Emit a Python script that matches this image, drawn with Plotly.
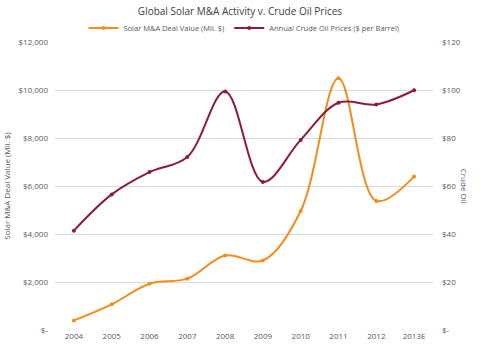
import plotly.graph_objects as go

years = ["2004", "2005", "2006", "2007", "2008", "2009", "2010", "2011", "2012", "2013E"]
solar_deal_value = [400, 1070, 1930, 2140, 3100, 2900, 4960, 10490, 5380, 6400]
crude_oil_price = [41.4, 56.5, 65.8, 72.1, 99.4, 61.7, 79.2, 94.7, 94.0, 99.9]

left_ticks = [0, 2000, 4000, 6000, 8000, 10000, 12000]
left_labels = ["$-", "$2,000", "$4,000", "$6,000", "$8,000", "$10,000", "$12,000"]
right_ticks = [0, 20, 40, 60, 80, 100, 120]
right_labels = ["$-", "$20", "$40", "$60", "$80", "$100", "$120"]

orange = "#F28C1C"
maroon = "#8B1C3C"
font = "Open Sans, Liberation Sans, sans-serif"
txt = "#595959"
grid = "#D9D9D9"

fig = go.Figure()
fig.add_trace(go.Scatter(
    x=years, y=solar_deal_value, name="Solar M&A Deal Value (Mil. $)",
    mode="lines+markers", line=dict(color=orange, width=2, shape="spline", smoothing=1),
    marker=dict(size=4, color=orange), yaxis="y"))
fig.add_trace(go.Scatter(
    x=years, y=crude_oil_price, name="Annual Crude Oil Prices ($ per Barrel)",
    mode="lines+markers", line=dict(color=maroon, width=2, shape="spline", smoothing=1),
    marker=dict(size=4, color=maroon), yaxis="y2"))

fig.update_layout(
    width=480, height=349,
    margin=dict(l=55, r=47, t=42, b=19, autoexpand=False),
    paper_bgcolor="white", plot_bgcolor="white",
    font=dict(family=font, size=8, color=txt),
    title=dict(text="Global Solar M&A Activity v. Crude Oil Prices", x=0.5, xanchor="center",
               y=0.968, yanchor="middle", font=dict(size=10, color="#404040")),
    legend=dict(orientation="h", x=0.5, xanchor="center", y=1.049, yanchor="middle",
                font=dict(size=7.5, color=txt), itemwidth=30, tracegroupgap=0,
                bgcolor="rgba(0,0,0,0)"),
    xaxis=dict(showgrid=False, showline=False, ticks="", tickfont=dict(size=8, color=txt),
               range=[-0.5, 9.5]),
    yaxis=dict(range=[0, 12000], tickvals=left_ticks, ticktext=left_labels,
               showgrid=True, gridcolor=grid, gridwidth=1, zeroline=False,
               showline=False, mirror=False,
               ticks="", ticklabelstandoff=6, tickfont=dict(size=8, color=txt),
               title=dict(text="Solar M&A Deal Value (Mil. $)", font=dict(size=8, color=txt), standoff=6)),
    yaxis2=dict(range=[0, 120], tickvals=right_ticks, ticktext=right_labels,
                overlaying="y", side="right", showgrid=True, gridcolor=grid, gridwidth=1,
                zeroline=False, showline=False,
                ticks="", ticklabelstandoff=8, tickfont=dict(size=8, color=txt)),
)
fig.add_annotation(text="Crude Oil", xref="paper", yref="paper", x=1.105, y=0.5,
                   textangle=90, showarrow=False, font=dict(size=8, color=txt))
fig.write_html("out.html")
